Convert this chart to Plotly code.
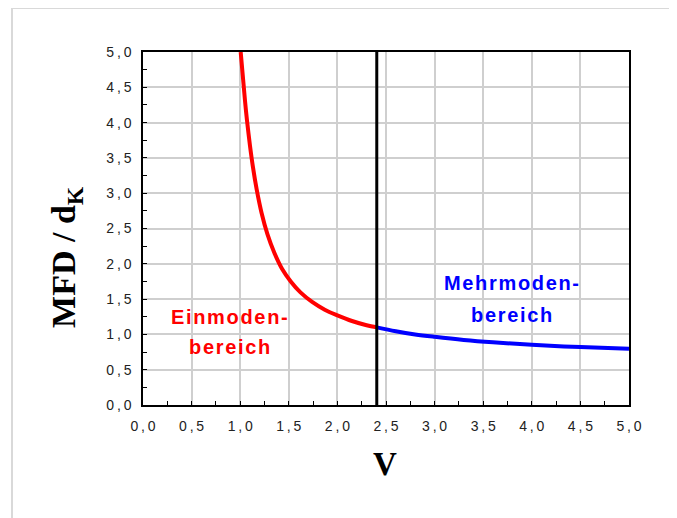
import plotly.graph_objects as go

# ---- data ----
v_single = [1.005, 1.03, 1.05, 1.07, 1.10, 1.13, 1.17, 1.22, 1.28, 1.35, 1.43,
            1.52, 1.62, 1.74, 1.87, 2.00, 2.15, 2.30, 2.405]
mfd_single = [5.00, 4.61, 4.30, 4.03, 3.68, 3.38, 3.05, 2.72, 2.42, 2.16, 1.93,
              1.75, 1.595, 1.46, 1.35, 1.27, 1.19, 1.13, 1.10]
v_multi = [2.405, 2.6, 2.8, 3.0, 3.3, 3.6, 4.0, 4.5, 5.0]
mfd_multi = [1.10, 1.045, 1.00, 0.966, 0.922, 0.888, 0.853, 0.82, 0.795]
v_cutoff = 2.405
y_span = [0.0, 5.0]
tick_vals = [0.0, 0.5, 1.0, 1.5, 2.0, 2.5, 3.0, 3.5, 4.0, 4.5, 5.0]
tick_text = ["0\u2009,\u20090", "0\u2009,\u20095", "1\u2009,\u20090", "1\u2009,\u20095",
             "2\u2009,\u20090", "2\u2009,\u20095", "3\u2009,\u20090", "3\u2009,\u20095",
             "4\u2009,\u20090", "4\u2009,\u20095", "5\u2009,\u20090"]

hs = "\u200a"
def spaced(s):
    return hs.join(list(s))

fig = go.Figure()
fig.add_trace(go.Scatter(x=v_single, y=mfd_single, mode="lines",
                         line=dict(color="#ff0000", width=4, shape="spline"),
                         showlegend=False, hoverinfo="skip"))
fig.add_trace(go.Scatter(x=v_multi, y=mfd_multi, mode="lines",
                         line=dict(color="#0000ff", width=4, shape="spline"),
                         showlegend=False, hoverinfo="skip"))
fig.add_trace(go.Scatter(x=[v_cutoff, v_cutoff], y=y_span, mode="lines",
                         line=dict(color="#000000", width=3),
                         showlegend=False, hoverinfo="skip"))

axis_common = dict(
    range=[0, 5], tickvals=tick_vals, ticktext=tick_text,
    showline=True, linecolor="black", linewidth=1.5, mirror=True,
    showgrid=True, gridcolor="#cfcfcf", gridwidth=1.5,
    zeroline=False, ticks="inside", ticklen=4, tickcolor="black",
    tickfont=dict(family="Liberation Sans, Arial", size=14, color="#222222"),
    minor=dict(dtick=0.25, tick0=0, ticks="inside", ticklen=4,
               tickcolor="black", showgrid=False),
    ticklabelstandoff=7,
)
fig.update_xaxes(**axis_common)
fig.update_yaxes(**axis_common)

annotations = [
    dict(text="<b>MFD / d<sub>K</sub></b>", x=-0.158, y=0.42, xref="paper", yref="paper",
         textangle=-90, showarrow=False, xanchor="center", yanchor="middle",
         font=dict(family="Liberation Serif, Times New Roman", size=34, color="black")),
    dict(text="<b>V</b>", x=0.498, y=-0.168, xref="paper", yref="paper",
         showarrow=False, xanchor="center", yanchor="middle",
         font=dict(family="Liberation Serif, Times New Roman", size=33, color="black")),
    dict(text="<b>" + spaced("Einmoden-") + "</b>", x=0.89, y=1.24, showarrow=False,
         xanchor="center", yanchor="middle",
         font=dict(family="Liberation Sans, Arial", size=20, color="#ff0000")),
    dict(text="<b>" + spaced("bereich") + "</b>", x=0.89, y=0.82, showarrow=False,
         xanchor="center", yanchor="middle",
         font=dict(family="Liberation Sans, Arial", size=20, color="#ff0000")),
    dict(text="<b>" + spaced("Mehrmoden-") + "</b>", x=3.79, y=1.73, showarrow=False,
         xanchor="center", yanchor="middle",
         font=dict(family="Liberation Sans, Arial", size=20, color="#0000ff")),
    dict(text="<b>" + spaced("bereich") + "</b>", x=3.79, y=1.275, showarrow=False,
         xanchor="center", yanchor="middle",
         font=dict(family="Liberation Sans, Arial", size=20, color="#0000ff")),
]
for a in annotations:
    fig.add_annotation(**a)

fig.add_shape(type="rect", xref="paper", yref="paper",
              x0=-0.2695, x1=1.105, y0=-0.40, y1=1.1246,
              line=dict(color="#d9d9d9", width=2), layer="below")

fig.update_layout(
    width=669, height=510,
    margin=dict(l=135, r=48, t=44, b=113),
    paper_bgcolor="white", plot_bgcolor="white",
    showlegend=False,
)
fig.write_html("out.html")
